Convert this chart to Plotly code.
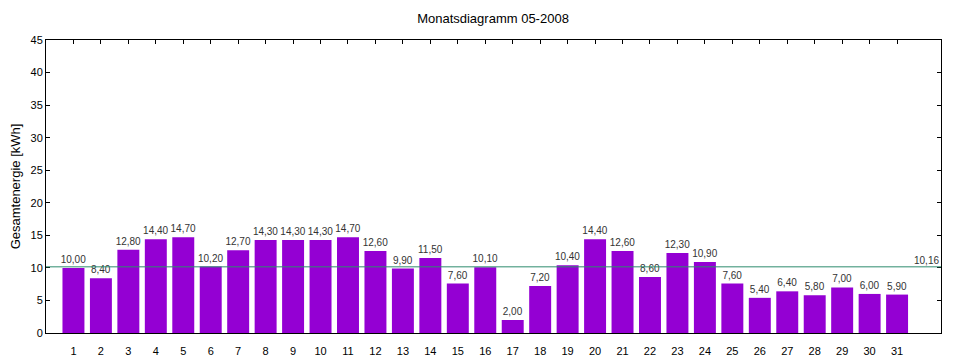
import plotly.graph_objects as go

days = [str(d) for d in range(1, 32)]
day_pos = list(range(1, 32))
energy = [10.00, 8.40, 12.80, 14.40, 14.70, 10.20, 12.70, 14.30, 14.30, 14.30,
          14.70, 12.60, 9.90, 11.50, 7.60, 10.10, 2.00, 7.20, 10.40, 14.40,
          12.60, 8.60, 12.30, 10.90, 7.60, 5.40, 6.40, 5.80, 7.00, 6.00, 5.90]
y_ticks = [0, 5, 10, 15, 20, 25, 30, 35, 40, 45]
average = sum(energy) / len(energy)

FONT = "Liberation Sans, Arial, sans-serif"
W, H = 952, 352  # page body has an 8px margin

fig = go.Figure()
fig.add_trace(go.Bar(
    x=day_pos, y=energy, width=0.8,
    marker=dict(color="#9400D3", line=dict(width=0)),
    texttemplate="%{y:.2f}", textposition="outside", constraintext="none",
    textfont=dict(size=10, color="#333333", family=FONT),
    cliponaxis=False, showlegend=False,
))
# top ticks
fig.add_trace(go.Scatter(x=day_pos, y=energy, xaxis="x2", mode="markers",
                         marker=dict(opacity=0), hoverinfo="skip", showlegend=False))

fig.add_shape(type="line", xref="paper", x0=0, x1=1, yref="y", y0=average, y1=average,
              line=dict(color="#2E8B6E", width=1))
fig.add_annotation(xref="paper", x=1.0, yref="y", y=average,
                   text=f"{average:.2f}".replace(".", ","),
                   showarrow=False, xanchor="right", yanchor="bottom", yshift=-1,
                   font=dict(size=10, color="#333333", family=FONT))

fig.update_layout(
    width=W, height=H,
    margin=dict(l=38, r=19, t=32, b=27, autoexpand=False),
    plot_bgcolor="white", paper_bgcolor="white",
    separators=",.",
    font=dict(family=FONT, size=11, color="black"),
    title=dict(text="Monatsdiagramm 05-2008", x=485 / W, xanchor="center",
               y=1 - 10 / H, yanchor="middle", font=dict(size=13, color="black")),
    xaxis=dict(range=[0, 32.6], tickvals=day_pos, ticktext=days, ticks="",
               showline=True, linecolor="black", linewidth=1, mirror=True,
               showgrid=False, zeroline=False, tickfont=dict(size=11),
               automargin=False, ticklabelstandoff=8),
    xaxis2=dict(range=[0, 32.6], overlaying="x", side="top", tickvals=day_pos,
                ticks="inside", ticklen=4, tickcolor="black", showticklabels=False,
                showgrid=False, zeroline=False, showline=False, automargin=False),
    yaxis=dict(range=[0, 45], tickvals=y_ticks, ticks="inside", ticklen=4,
               tickcolor="black", showline=True, linecolor="black", linewidth=1,
               mirror="ticks", showgrid=False, zeroline=False, automargin=False,
               title=dict(text="Gesamtenergie [kWh]", font=dict(size=13), standoff=12),
               tickfont=dict(size=11)),
    bargap=0.2,
)

fig.write_html("out.html")
